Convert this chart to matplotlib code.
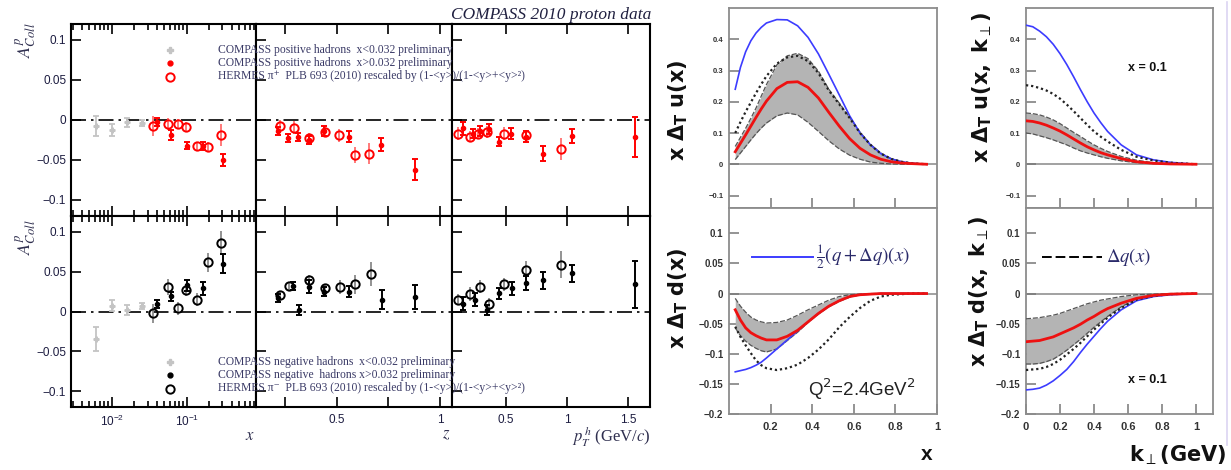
import matplotlib
matplotlib.use('Agg')
import matplotlib.pyplot as plt
from matplotlib.lines import Line2D
from matplotlib.ticker import FixedLocator, NullFormatter, LogLocator

plt.rcParams['font.family'] = ['Liberation Sans', 'DejaVu Sans']
plt.rcParams['mathtext.fontset'] = 'stix'

# ---------------- COMPASS data (positive hadrons, top row) ----------------
# x panel
pos_x_lowx = [0.0061, 0.0100, 0.0159, 0.025]
pos_x_lowx_y = [-0.0076, -0.0126, -0.003, -0.004]
pos_x_lowx_e = [0.013, 0.008, 0.006, 0.004]
pos_x_c = [0.0398, 0.0618, 0.102, 0.167, 0.302]
pos_x_c_y = [-0.003, -0.019, -0.032, -0.032, -0.050]
pos_x_c_e = [0.005, 0.006, 0.004, 0.005, 0.007]
pos_x_h = [0.0359, 0.0569, 0.0759, 0.098, 0.136, 0.194, 0.284]
pos_x_h_y = [-0.0076, -0.005, -0.005, -0.0085, -0.033, -0.034, -0.019]
pos_x_h_e = [0.012, 0.008, 0.006, 0.006, 0.005, 0.006, 0.014]
# z panel
pos_z_c = [0.215, 0.266, 0.314, 0.367, 0.439, 0.56, 0.714, 0.879]
pos_z_c_y = [-0.014, -0.023, -0.021, -0.025, -0.014, -0.021, -0.031, -0.062]
pos_z_c_e = [0.005, 0.005, 0.005, 0.005, 0.006, 0.007, 0.008, 0.013]
pos_z_h = [0.226, 0.295, 0.367, 0.445, 0.513, 0.589, 0.658]
pos_z_h_y = [-0.0076, -0.0097, -0.022, -0.015, -0.019, -0.044, -0.042]
pos_z_h_e = [0.007, 0.008, 0.006, 0.006, 0.008, 0.010, 0.013]
# pT panel
pos_p_c = [0.15, 0.227, 0.287, 0.363, 0.445, 0.541, 0.664, 0.806, 1.039, 1.557]
pos_p_c_y = [-0.0105, -0.017, -0.014, -0.011, -0.027, -0.017, -0.021, -0.042, -0.020, -0.021]
pos_p_c_e = [0.008, 0.006, 0.006, 0.006, 0.006, 0.007, 0.007, 0.009, 0.009, 0.025]
pos_p_h = [0.109, 0.205, 0.273, 0.342, 0.484, 0.664, 0.948]
pos_p_h_y = [-0.017, -0.021, -0.017, -0.015, -0.017, -0.019, -0.036]
pos_p_h_e = [0.008, 0.007, 0.007, 0.007, 0.008, 0.007, 0.014]

# ---------------- COMPASS data (negative hadrons, bottom row) ----------------
neg_x_lowx = [0.0061, 0.0100, 0.0159, 0.025]
neg_x_lowx_y = [-0.035, 0.0072, 0.002, 0.007]
neg_x_lowx_e = [0.015, 0.007, 0.006, 0.004]
neg_x_c = [0.0398, 0.0618, 0.102, 0.167, 0.302]
neg_x_c_y = [0.009, 0.019, 0.033, 0.029, 0.060]
neg_x_c_e = [0.005, 0.006, 0.007, 0.008, 0.012]
neg_x_h = [0.0359, 0.0569, 0.0759, 0.097, 0.136, 0.194, 0.284]
neg_x_h_y = [-0.002, 0.031, 0.004, 0.027, 0.015, 0.062, 0.086]
neg_x_h_e = [0.012, 0.010, 0.008, 0.008, 0.008, 0.012, 0.015]
neg_z_c = [0.215, 0.287, 0.319, 0.367, 0.439, 0.56, 0.718, 0.879]
neg_z_c_y = [0.017, 0.032, 0.002, 0.031, 0.025, 0.025, 0.015, 0.018]
neg_z_c_e = [0.005, 0.005, 0.006, 0.008, 0.006, 0.007, 0.012, 0.015]
neg_z_h = [0.226, 0.271, 0.367, 0.445, 0.516, 0.589, 0.664]
neg_z_h_y = [0.021, 0.032, 0.039, 0.029, 0.031, 0.034, 0.047]
neg_z_h_e = [0.005, 0.005, 0.007, 0.006, 0.009, 0.012, 0.015]
neg_p_c = [0.15, 0.246, 0.347, 0.445, 0.547, 0.664, 0.806, 1.039, 1.557]
neg_p_c_y = [0.010, 0.015, 0.002, 0.023, 0.029, 0.036, 0.039, 0.048, 0.034]
neg_p_c_e = [0.008, 0.008, 0.006, 0.007, 0.008, 0.009, 0.011, 0.011, 0.030]
neg_p_h = [0.109, 0.205, 0.287, 0.363, 0.484, 0.664, 0.948]
neg_p_h_y = [0.015, 0.022, 0.031, 0.010, 0.034, 0.052, 0.059]
neg_p_h_e = [0.007, 0.009, 0.008, 0.007, 0.008, 0.012, 0.017]

# ---------------- Transversity curves (vs x) ----------------
xg = [0.03, 0.055, 0.08, 0.105, 0.13, 0.155, 0.18, 0.23, 0.28, 0.33, 0.38, 0.43, 0.48, 0.53,
      0.58, 0.63, 0.68, 0.73, 0.78, 0.83, 0.88, 0.95]
u_blue = [0.24, 0.31, 0.36, 0.395, 0.42, 0.438, 0.452, 0.463, 0.462, 0.443, 0.406, 0.353, 0.288,
          0.222, 0.155, 0.10, 0.062, 0.034, 0.017, 0.008, 0.003, 0.0]
u_dot = [0.10, 0.135, 0.168, 0.198, 0.228, 0.256, 0.282, 0.322, 0.342, 0.347, 0.330, 0.292, 0.236,
         0.192, 0.148, 0.10, 0.062, 0.034, 0.017, 0.008, 0.003, 0.0]
u_hi = [0.057, 0.086, 0.115, 0.147, 0.18, 0.218, 0.255, 0.318, 0.347, 0.355, 0.338, 0.298, 0.240,
        0.196, 0.150, 0.103, 0.064, 0.036, 0.018, 0.008, 0.003, 0.0]
u_lo = [0.015, 0.036, 0.057, 0.078, 0.098, 0.116, 0.132, 0.155, 0.164, 0.158, 0.134, 0.105, 0.075,
        0.049, 0.029, 0.016, 0.007, 0.003, 0.001, 0.0, 0.0, 0.0]
u_red = [0.04, 0.067, 0.094, 0.122, 0.150, 0.177, 0.202, 0.242, 0.262, 0.264, 0.246, 0.212, 0.166,
         0.122, 0.082, 0.051, 0.030, 0.016, 0.008, 0.004, 0.002, 0.0]

d_blue = [-0.130, -0.128, -0.126, -0.123, -0.119, -0.114, -0.107, -0.092, -0.077, -0.062, -0.047,
          -0.033, -0.021, -0.012, -0.005, -0.002, -0.001, 0.0, 0.0, 0.0, 0.0, 0.0]
d_dot = [-0.055, -0.072, -0.086, -0.099, -0.111, -0.119, -0.124, -0.127, -0.124, -0.118, -0.107,
         -0.093, -0.076, -0.056, -0.039, -0.024, -0.012, -0.005, -0.002, -0.001, 0.0, 0.0]
d_hi = [-0.008, -0.021, -0.031, -0.039, -0.044, -0.047, -0.049, -0.048, -0.044, -0.036, -0.027,
        -0.019, -0.011, -0.005, -0.002, -0.001, 0.0, 0.0, 0.0, 0.0, 0.0, 0.0]
d_lo = [-0.057, -0.070, -0.079, -0.086, -0.091, -0.095, -0.097, -0.092, -0.078, -0.064, -0.048,
        -0.034, -0.022, -0.013, -0.006, -0.002, -0.001, 0.0, 0.0, 0.0, 0.0, 0.0]
d_red = [-0.027, -0.044, -0.057, -0.065, -0.070, -0.074, -0.077, -0.077, -0.071, -0.061, -0.047,
         -0.033, -0.021, -0.012, -0.005, -0.002, -0.001, 0.0, 0.0, 0.0, 0.0, 0.0]

# ---------------- Transversity curves (vs k_perp, x = 0.1) ----------------
kg = [0.0, 0.04, 0.08, 0.12, 0.16, 0.20, 0.24, 0.28, 0.32, 0.36, 0.40, 0.44, 0.48, 0.56, 0.65,
      0.75, 0.85, 1.0]
ku_blue = [0.445, 0.440, 0.426, 0.408, 0.384, 0.354, 0.319, 0.280, 0.239, 0.200, 0.164, 0.133,
           0.105, 0.062, 0.030, 0.014, 0.006, 0.0]
ku_dot = [0.253, 0.250, 0.244, 0.236, 0.225, 0.210, 0.191, 0.170, 0.148, 0.126, 0.105, 0.088,
          0.073, 0.046, 0.024, 0.012, 0.005, 0.0]
ku_hi = [0.164, 0.162, 0.158, 0.151, 0.142, 0.130, 0.116, 0.102, 0.089, 0.075, 0.062, 0.051,
         0.041, 0.025, 0.013, 0.005, 0.002, 0.0]
ku_red = [0.139, 0.137, 0.132, 0.125, 0.116, 0.106, 0.094, 0.081, 0.068, 0.056, 0.046, 0.037,
          0.030, 0.018, 0.008, 0.003, 0.001, 0.0]
ku_lo = [0.100, 0.097, 0.091, 0.085, 0.078, 0.070, 0.062, 0.052, 0.043, 0.036, 0.030, 0.024,
         0.019, 0.011, 0.005, 0.002, 0.001, 0.0]

kd_blue = [-0.160, -0.159, -0.157, -0.152, -0.145, -0.136, -0.126, -0.113, -0.098, -0.084, -0.071,
           -0.058, -0.046, -0.027, -0.012, -0.005, -0.002, 0.0]
kd_dot = [-0.127, -0.126, -0.125, -0.122, -0.117, -0.110, -0.101, -0.092, -0.082, -0.071, -0.060,
          -0.050, -0.040, -0.024, -0.010, -0.004, -0.001, 0.0]
kd_lo = [-0.117, -0.117, -0.116, -0.113, -0.109, -0.102, -0.094, -0.085, -0.076, -0.066, -0.056,
         -0.047, -0.038, -0.022, -0.009, -0.003, -0.001, 0.0]
kd_hi = [-0.042, -0.041, -0.040, -0.038, -0.036, -0.033, -0.029, -0.025, -0.021, -0.017, -0.014,
         -0.011, -0.009, -0.005, -0.002, -0.001, 0.0, 0.0]
kd_red = [-0.080, -0.079, -0.078, -0.075, -0.072, -0.067, -0.062, -0.057, -0.051, -0.044, -0.038,
          -0.031, -0.025, -0.016, -0.008, -0.003, -0.001, 0.0]

# ---------------- figure ----------------
W, H = 1231, 470
fig = plt.figure(figsize=(W / 100, H / 100), dpi=100)


def px_axes(x0, y0, x1, y1):
    return fig.add_axes([x0 / W, 1 - y1 / H, (x1 - x0) / W, (y1 - y0) / H])


TICKC = '#1c1c40'
cols = [(71, 256), (256, 452), (452, 650)]
rows = [(24, 216), (216, 407)]
xlims = [(0.00286, 0.84), (0.11, 1.058), (0.057, 1.68)]

panels = [
    [(pos_x_lowx, pos_x_lowx_y, pos_x_lowx_e, pos_x_c, pos_x_c_y, pos_x_c_e, pos_x_h, pos_x_h_y, pos_x_h_e),
     (None, None, None, pos_z_c, pos_z_c_y, pos_z_c_e, pos_z_h, pos_z_h_y, pos_z_h_e),
     (None, None, None, pos_p_c, pos_p_c_y, pos_p_c_e, pos_p_h, pos_p_h_y, pos_p_h_e)],
    [(neg_x_lowx, neg_x_lowx_y, neg_x_lowx_e, neg_x_c, neg_x_c_y, neg_x_c_e, neg_x_h, neg_x_h_y, neg_x_h_e),
     (None, None, None, neg_z_c, neg_z_c_y, neg_z_c_e, neg_z_h, neg_z_h_y, neg_z_h_e),
     (None, None, None, neg_p_c, neg_p_c_y, neg_p_c_e, neg_p_h, neg_p_h_y, neg_p_h_e)],
]
row_colors = [('red', '#ff7070'), ('black', '#8a8a8a')]

for r, (y0, y1) in enumerate(rows):
    main_c, herm_c = row_colors[r]
    for c, (x0, x1) in enumerate(cols):
        ax = px_axes(x0, y0, x1, y1)
        if c == 0:
            ax.set_xscale('log')
        ax.set_xlim(*xlims[c])
        ax.set_ylim(-0.12, 0.12)
        ax.axhline(0, color='black', lw=1.2, ls=(0, (9, 3, 1.5, 3)), zorder=1)
        lx, ly, le, cx, cy, ce, hx, hy, he = panels[r][c]
        if lx is not None:
            ax.errorbar(lx, ly, yerr=le, fmt='P', ms=3.5, color='#c4c4c4', ecolor='#c4c4c4',
                        elinewidth=1.3, capsize=2, capthick=1.3, zorder=3)
        ax.errorbar(hx, hy, yerr=he, fmt='o', ms=6, mfc='none', mec=main_c, mew=1.4,
                    ecolor=herm_c, elinewidth=1.3, capsize=0, zorder=4)
        ax.errorbar(cx, cy, yerr=ce, fmt='o', ms=3, color=main_c, ecolor=main_c,
                    elinewidth=1.4, capsize=2.2, capthick=1.4, zorder=5)
        for s in ax.spines.values():
            s.set_linewidth(1.5)
            s.set_color('black')
        ax.yaxis.set_major_locator(FixedLocator([-0.1, -0.05, 0, 0.05, 0.1]))
        ax.tick_params(axis='both', which='both', direction='in', top=True, right=False,
                       labelsize=8.5, labelcolor=TICKC, width=1.2)
        ax.tick_params(axis='both', which='major', length=7)
        ax.tick_params(axis='both', which='minor', length=4)
        if c == 0:
            ax.xaxis.set_major_locator(LogLocator(base=10, numticks=10))
            ax.xaxis.set_minor_locator(LogLocator(base=10, subs=range(2, 10), numticks=10))
            ax.xaxis.set_minor_formatter(NullFormatter())
            ax.set_yticklabels(['\u22120.1', '\u22120.05', '0', '0.05', '0.1'])
        else:
            ax.set_yticklabels([])
            if c == 1:
                ax.xaxis.set_major_locator(FixedLocator([0.25, 0.5, 0.75, 1.0]))
                ax.set_xticklabels(['', '0.5', '', '1'])
            else:
                ax.xaxis.set_major_locator(FixedLocator([0.5, 1.0, 1.5]))
                ax.set_xticklabels(['0.5', '1', '1.5'])
        if r == 0:
            ax.tick_params(axis='x', labelbottom=False)
        ax.tick_params(axis='x', pad=5)

# legends of COMPASS panels
LEGC = '#3a3a66'
leg_rows = [
    (49.5, 'P', '#c4c4c4', 'COMPASS positive hadrons  x<0.032 preliminary'),
    (63, 'o', 'red', 'COMPASS positive hadrons  x>0.032 preliminary'),
    (76.5, 'oo', 'red', 'HERMES \u03c0\u207a  PLB 693 (2010) rescaled by (1-<y>)/(1-<y>+<y>\u00b2)'),
    (361.5, 'P', '#c4c4c4', 'COMPASS negative hadrons  x<0.032 preliminary'),
    (375, 'o', 'black', 'COMPASS negative  hadrons x>0.032 preliminary'),
    (388.5, 'oo', 'black', 'HERMES \u03c0\u207b  PLB 693 (2010) rescaled by (1-<y>)/(1-<y>+<y>\u00b2)'),
]
for yy, mk, colr, txt in leg_rows:
    if mk == 'oo':
        ln = Line2D([170 / W], [1 - yy / H], marker='o', ms=6, mfc='none', mec=colr, mew=1.4,
                    ls='none', transform=fig.transFigure)
    elif mk == 'o':
        ln = Line2D([170 / W], [1 - yy / H], marker='o', ms=3.5, color=colr, ls='none',
                    transform=fig.transFigure)
    else:
        ln = Line2D([170 / W], [1 - yy / H], marker='P', ms=4, color=colr, ls='none',
                    transform=fig.transFigure)
    fig.add_artist(ln)
    fig.text(218 / W, 1 - yy / H, txt, fontsize=8.4, family=['Liberation Serif', 'DejaVu Serif'],
             color=LEGC, va='center', ha='left')

fig.text(651 / W, 1 - 15 / H, 'COMPASS 2010 proton data', fontsize=12.5, family='Liberation Serif',
         style='italic', color='#202040', ha='right', va='center')
fig.text(26 / W, 1 - 40 / H, r'$A^{p}_{Coll}$', fontsize=13, rotation=90, ha='center', va='center',
         color='#303050')
fig.text(26 / W, 1 - 237 / H, r'$A^{p}_{Coll}$', fontsize=13, rotation=90, ha='center', va='center',
         color='#303050')
fig.text(250 / W, 1 - 435 / H, r'$x$', fontsize=12, ha='center', va='center', color='#303050')
fig.text(446 / W, 1 - 434 / H, r'$z$', fontsize=12, ha='center', va='center', color='#303050')
fig.text(651 / W, 1 - 437 / H, r'$p^{\,h}_{T}$ (GeV/$c$)', fontsize=12, ha='right', va='center',
         family='Liberation Serif', color='#303050')

# ---------------- transversity panels ----------------
BAND = '#b4b4b4'
BLUE = '#3c3cff'
SPC = '#8c8c8c'


def style_right(ax, xlim, ylim, yticks, ylabels, xticks, xlabels, ysize):
    ax.set_xlim(*xlim)
    ax.set_ylim(*ylim)
    ax.axhline(0, color='#9a9a9a', lw=1.3, zorder=1)
    for s in ax.spines.values():
        s.set_color(SPC)
        s.set_linewidth(1.3)
    ax.yaxis.set_major_locator(FixedLocator(yticks))
    ax.set_yticklabels(ylabels)
    ax.xaxis.set_major_locator(FixedLocator(xticks))
    if xlabels is None:
        ax.set_xticklabels([])
    else:
        ax.set_xticklabels(xlabels)
    ax.tick_params(axis='both', direction='in', length=7, width=1.1, color='#777777')
    ax.tick_params(axis='y', labelsize=ysize, pad=4)
    ax.tick_params(axis='x', labelsize=8, pad=6)
    for lab in ax.get_xticklabels() + ax.get_yticklabels():
        lab.set_fontweight('bold')
        lab.set_color('#333333')


def draw_curves(ax, xs, lo, hi, red, blue, dot):
    ax.fill_between(xs, lo, hi, color=BAND, lw=0, zorder=2)
    ax.plot(xs, lo, color='#555555', lw=0.9, ls=(0, (4, 1.5)), zorder=3)
    ax.plot(xs, hi, color='#555555', lw=0.9, ls=(0, (4, 1.5)), zorder=3)
    ax.plot(xs, blue, color=BLUE, lw=1.2, zorder=4)
    ax.plot(xs, dot, color='#222222', lw=1.6, ls=(0, (1, 1.3)), zorder=5)
    ax.plot(xs, red, color='#ee1111', lw=2.0, zorder=6)


top_yt = [-0.1, 0, 0.1, 0.2, 0.3, 0.4]
top_yl = ['\u22120.1', '0', '0.1', '0.2', '0.3', '0.4']
bot_yt = [-0.2, -0.15, -0.1, -0.05, 0, 0.05, 0.1]
bot_yl = ['\u22120.2', '\u22120.15', '\u22120.1', '\u22120.05', '0', '0.05', '0.1']

axA = px_axes(729, 8, 937, 208)
draw_curves(axA, xg, u_lo, u_hi, u_red, u_blue, u_dot)
style_right(axA, (0, 1), (-0.14, 0.5), top_yt, top_yl, [0.2, 0.4, 0.6, 0.8], None, 5.5)

axB = px_axes(729, 208, 937, 414)
draw_curves(axB, xg, d_lo, d_hi, d_red, d_blue, d_dot)
style_right(axB, (0, 1), (-0.2, 0.142), bot_yt, bot_yl, [0.2, 0.4, 0.6, 0.8, 1.0],
            ['0.2', '0.4', '0.6', '0.8', '1'], 7)

axC = px_axes(1026, 8, 1213, 208)
draw_curves(axC, kg, ku_lo, ku_hi, ku_red, ku_blue, ku_dot)
style_right(axC, (0, 1.1), (-0.14, 0.5), top_yt, top_yl, [0.2, 0.4, 0.6, 0.8, 1.0], None, 5.5)

axD = px_axes(1026, 208, 1213, 414)
draw_curves(axD, kg, kd_lo, kd_hi, kd_red, kd_blue, kd_dot)
style_right(axD, (0, 1.1), (-0.2, 0.142), bot_yt, bot_yl, [0, 0.2, 0.4, 0.6, 0.8, 1.0],
            ['0', '0.2', '0.4', '0.6', '0.8', '1'], 7)

# legends inside lower transversity panels
fig.add_artist(Line2D([752 / W, 813 / W], [1 - 257 / H, 1 - 257 / H], color=BLUE, lw=1.4,
                      transform=fig.transFigure))
fig.text(816 / W, 1 - 257 / H, r'$\frac{1}{2}\left(q+\Delta q\right)(x)$', fontsize=13.5,
         color='#2a2a6a', ha='left', va='center')
fig.add_artist(Line2D([1042 / W, 1102 / W], [1 - 257 / H, 1 - 257 / H], color='black', lw=1.4,
                      ls=(0, (5, 2)), transform=fig.transFigure))
fig.text(1106 / W, 1 - 257 / H, r'$\Delta q(x)$', fontsize=13.5, color='#2a2a6a', ha='left',
         va='center')

fig.text(862 / W, 1 - 389 / H, r'Q$^2$=2.4GeV$^2$', fontsize=13.5, color='#222222', ha='center',
         va='center', math_fontfamily='dejavusans')
fig.text(1147 / W, 1 - 68 / H, 'x = 0.1', fontsize=9, fontweight='bold', color='#111111',
         ha='center', va='center')
fig.text(1147 / W, 1 - 380 / H, 'x = 0.1', fontsize=9, fontweight='bold', color='#111111',
         ha='center', va='center')

# axis labels of transversity panels
lab_kw = dict(fontsize=15, rotation=90, ha='center', va='center', color='#111111',
              math_fontfamily='dejavusans')
fig.text(678 / W, 1 - 110 / H, r'$\mathbf{x\ \Delta_{T}\ u(x)}$', **lab_kw)
fig.text(678 / W, 1 - 298 / H, r'$\mathbf{x\ \Delta_{T}\ d(x)}$', **lab_kw)
fig.text(982 / W, 1 - 88 / H, r'$\mathbf{x\ \Delta_{T}\ u(x,\ k}_{\perp}\mathbf{)}$', **lab_kw)
fig.text(979 / W, 1 - 292 / H, r'$\mathbf{x\ \Delta_{T}\ d(x,\ k}_{\perp}\mathbf{)}$', **lab_kw)
fig.text(927 / W, 1 - 455 / H, 'x', fontsize=15, fontweight='bold', color='#111111',
         ha='center', va='center')
fig.text(1226 / W, 1 - 455 / H, r'$\mathbf{k}_{\perp}\mathbf{(GeV)}$', fontsize=15, color='#111111',
         ha='right', va='center', math_fontfamily='dejavusans')

# thin border line at the right edge of the source image
fig.add_artist(Line2D([1226.5 / W, 1226.5 / W], [1 - 2 / H, 1 - 445 / H], color='#dcd4f2', lw=1.2,
                      transform=fig.transFigure))

fig.savefig('out.png', dpi=100)
